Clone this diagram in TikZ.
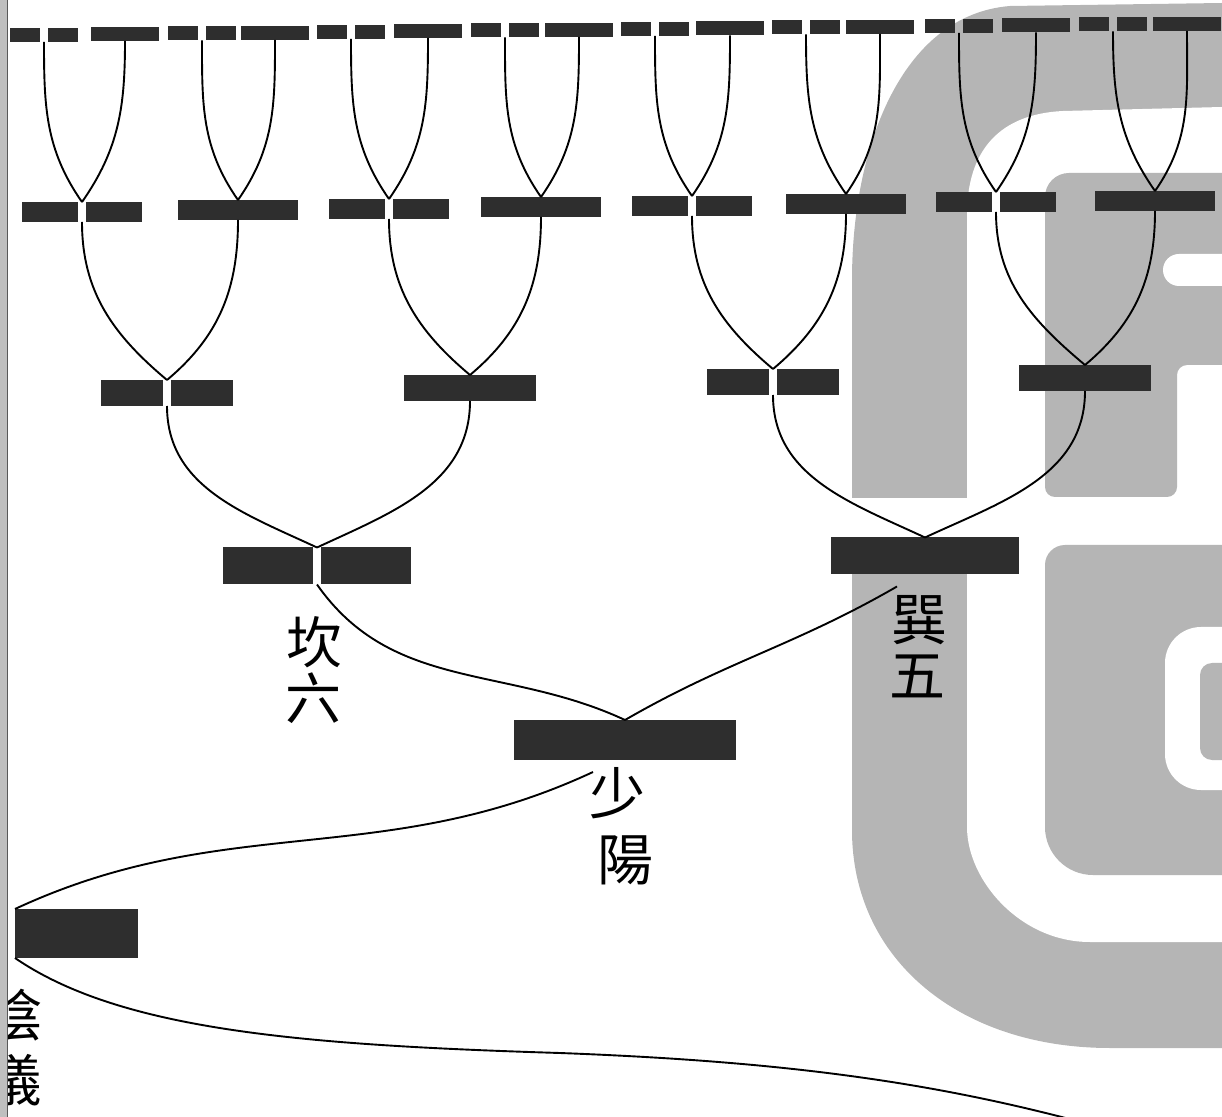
\documentclass[tikz,border=0pt]{standalone}
\usepackage{fontspec}
\newfontfamily\cjk{Noto Sans CJK TC}
\definecolor{barcol}{HTML}{2E2E2E}
\definecolor{sealgray}{HTML}{B5B5B5}
\newcommand\yingap{2pt}
\newcommand\branch[3]{% upper bar, lower bar, entry angle
  \draw[thread] (#1.south) to[out=-90,in=#3] (#2.north);
}

\begin{document}
\begin{tikzpicture}[x=0.5pt,y=-0.5pt]
  \tikzset{
    yang/.style={rectangle,fill=barcol,inner sep=0pt,outer sep=0pt},
    yin/.style={rectangle,inner sep=0pt,outer sep=0pt,
      path picture={
        \fill[barcol] (path picture bounding box.south west) rectangle ([xshift=-\yingap]path picture bounding box.north);
        \fill[barcol] ([xshift=\yingap]path picture bounding box.south) rectangle (path picture bounding box.north east);
      }},
    rowsix/.style={minimum width=34pt,minimum height=7pt},
    rowfive/.style={minimum width=60pt,minimum height=10pt},
    rowfour/.style={minimum width=66pt,minimum height=13pt},
    rowthree/.style={minimum width=94pt,minimum height=18.5pt},
    thread/.style={line width=0.95pt},
    glyph/.style={font=\cjk\fontsize{28pt}{28pt}\selectfont,inner sep=0pt},
    seal/.style={fill=sealgray},
  }
  \useasboundingbox (0,0) rectangle (1222,1117);
  \clip (0,0) rectangle (1222,1117);

  % library stamp behind the figure
  \fill[seal] (1222,3) -- (1010,6) .. controls (900,15) and (852,150) .. (852,280)
    -- (852,830) .. controls (852,960) and (960,1048) .. (1110,1048) -- (1222,1048) -- cycle;
  \fill[white] (1222,107) -- (1063,111) .. controls (1000,114) and (967,150) .. (967,215)
    -- (967,827) .. controls (967,880) and (1020,942) .. (1090,942) -- (1222,942) -- cycle;
  \fill[white] (845,498) rectangle (975,553);
  \fill[seal] (1240,173) [rounded corners=12pt] -- (1045,173) [rounded corners=5pt] -- (1045,497)
    -- (1177,497) -- (1177,365) [sharp corners] -- (1240,365) -- cycle;
  \fill[white,rounded corners=8pt] (1163,254) rectangle (1240,286);
  \fill[seal] (1240,545) [rounded corners=10pt] -- (1045,545) [rounded corners=24pt] -- (1045,875)
    [sharp corners] -- (1240,875) -- cycle;
  \fill[white,rounded corners=18pt] (1165,627) rectangle (1260,790);
  \fill[seal,rounded corners=6pt] (1200,663) rectangle (1260,760);

  % sixth row
  \node[yin,rowsix]  (t1)  at (44,35)     {};
  \node[yang,rowsix] (t2)  at (125,34)    {};
  \node[yin,rowsix]  (t3)  at (202,33.5)  {};
  \node[yang,rowsix] (t4)  at (275,33)    {};
  \node[yin,rowsix]  (t5)  at (351,32)    {};
  \node[yang,rowsix] (t6)  at (428,31)    {};
  \node[yin,rowsix]  (t7)  at (505,30.5)  {};
  \node[yang,rowsix] (t8)  at (579,30)    {};
  \node[yin,rowsix]  (t9)  at (655,29)    {};
  \node[yang,rowsix] (t10) at (730,28.5)  {};
  \node[yin,rowsix]  (t11) at (806,27.5)  {};
  \node[yang,rowsix] (t12) at (880,27)    {};
  \node[yin,rowsix]  (t13) at (959,26)    {};
  \node[yang,rowsix] (t14) at (1036,25.5) {};
  \node[yin,rowsix]  (t15) at (1113,24.5) {};
  \node[yang,rowsix] (t16) at (1187,24)   {};

  % fifth row
  \node[yin,rowfive]  (f1) at (82,212)   {};
  \node[yang,rowfive] (f2) at (238,210)  {};
  \node[yin,rowfive]  (f3) at (389,209)  {};
  \node[yang,rowfive] (f4) at (541,207)  {};
  \node[yin,rowfive]  (f5) at (692,206)  {};
  \node[yang,rowfive] (f6) at (846,204)  {};
  \node[yin,rowfive]  (f7) at (996,202)  {};
  \node[yang,rowfive] (f8) at (1155,201) {};

  % fourth row
  \node[yin,rowfour]  (s1) at (167,393)  {};
  \node[yang,rowfour] (s2) at (470,388)  {};
  \node[yin,rowfour]  (s3) at (773,382)  {};
  \node[yang,rowfour] (s4) at (1085,378) {};

  % trigrams, four images, two modes
  \node[yin,rowthree]  (kan) at (317,566) {};
  \node[yang,rowthree] (xun) at (925,556) {};
  \node[yang,minimum width=111pt,minimum height=20pt] (shaoyang) at (625,740) {};
  \node[yang,minimum width=61.5pt,minimum height=24.5pt] (yi) at (76.5,933.5) {};

  \branch{t1}{f1}{125}  \branch{t2}{f1}{55}
  \branch{t3}{f2}{125}  \branch{t4}{f2}{55}
  \branch{t5}{f3}{125}  \branch{t6}{f3}{55}
  \branch{t7}{f4}{125}  \branch{t8}{f4}{55}
  \branch{t9}{f5}{125}  \branch{t10}{f5}{55}
  \branch{t11}{f6}{125} \branch{t12}{f6}{55}
  \branch{t13}{f7}{125} \branch{t14}{f7}{55}
  \branch{t15}{f8}{125} \branch{t16}{f8}{55}

  \branch{f1}{s1}{140} \branch{f2}{s1}{40}
  \branch{f3}{s2}{140} \branch{f4}{s2}{40}
  \branch{f5}{s3}{140} \branch{f6}{s3}{40}
  \branch{f7}{s4}{140} \branch{f8}{s4}{40}

  \branch{s1}{kan}{155} \branch{s2}{kan}{25}
  \branch{s3}{xun}{155} \branch{s4}{xun}{25}

  \draw[thread] (kan.south) to[out=-55,in=155] (shaoyang.north);
  \coordinate (xunfoot) at ([xshift=-14pt,yshift=-6pt]xun.south);
  \draw[thread] (xunfoot) to[out=-150,in=30] (shaoyang.north);
  \coordinate (shaofoot) at ([xshift=-16pt,yshift=-6pt]shaoyang.south);
  \draw[thread] (shaofoot) to[out=-155,in=25] (yi.north west);
  \coordinate (lowend) at (1110,1130);
  \draw[thread] (yi.south west) .. controls (120,1030) and (300,1045) .. (560,1053)
    .. controls (800,1062) and (950,1085) .. (lowend);

  % names
  \node[glyph] (kanname)   at (314,642)  {坎};
  \node[glyph] (kannum)    at (313,698)  {六};
  \node[glyph] (xunname)   at (919,620)  {巽};
  \node[glyph] (xunnum)    at (917,676)  {五};
  \node[glyph] (shaoname)  at (617,793)  {少};
  \node[glyph] (yangname)  at (625,860)  {陽};
  \node[glyph] (yinname)   at (15,1015)  {陰};
  \node[glyph] (yiname)    at (14,1080)  {儀};

  % binding edge
  \fill[gray!50] (0,0) rectangle (7,1117);
  \draw[black!65,line width=0.8pt] (7.5,0) -- (7.5,1117);
\end{tikzpicture}
\end{document}
